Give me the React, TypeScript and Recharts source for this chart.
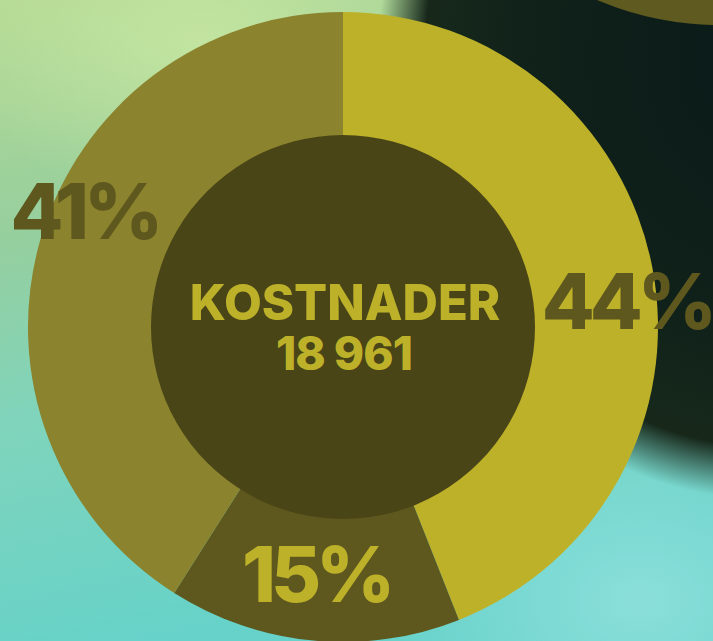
import React from "react";
import { PieChart, Pie, Cell } from "recharts";

const categories = ["Andel 1", "Andel 2", "Andel 3"];
const percentValues = [44, 15, 41];
const centerTitle = "KOSTNADER";
const centerTotal = "18 961";

const sliceColors = ["#BDB12A", "#5E581E", "#8B832D"];
const labelColors = ["#5E581E", "#BDB12A", "#5E581E"];
// label placement tweaks (radius factor, angle shift in degrees)
const labelRadiusFactor = [0.905, 0.79, 0.9];
const labelAngleShift = [-5.6, -0.8, -8];

const data = categories.map((name, i) => ({ name, value: percentValues[i] }));
const innerData = [{ name: centerTitle, value: 1 }];

const FONT = "Inter, 'Open Sans', 'DejaVu Sans', sans-serif";
const RAD = Math.PI / 180;

const renderLabel = (props: any) => {
  const { cx, cy, midAngle, outerRadius, index, value } = props;
  const r = outerRadius * labelRadiusFactor[index];
  const a = (midAngle + labelAngleShift[index]) * RAD;
  const x = cx + r * Math.cos(a);
  const y = cy - r * Math.sin(a);
  return (
    <text
      x={x}
      y={y + 28}
      textAnchor="middle"
      fill={labelColors[index]}
      style={{ fontFamily: FONT, fontWeight: 800, fontSize: 77, letterSpacing: -5 }}
    >
      {`${value}%`}
    </text>
  );
};

const renderCenter = (props: any) => {
  const { cx, cy } = props;
  return (
    <text
      x={cx + 2}
      y={cy - 7}
      textAnchor="middle"
      fill="#BDB12A"
      style={{ fontFamily: FONT, fontWeight: 800 }}
    >
      <tspan x={cx + 2} fontSize={49}>
        {centerTitle}
      </tspan>
      <tspan x={cx + 1} dy={50} fontSize={46} letterSpacing={-1}>
        {centerTotal}
      </tspan>
    </text>
  );
};

const Background = () => (
  <svg
    width={713}
    height={641}
    style={{ position: "absolute", left: 0, top: 0 }}
  >
    <defs>
      <linearGradient id="bgBase" x1="0" y1="0" x2="0.25" y2="1">
        <stop offset="0" stopColor="#b4d993" />
        <stop offset="0.35" stopColor="#96cf9e" />
        <stop offset="0.62" stopColor="#80d4bb" />
        <stop offset="1" stopColor="#66d2c9" />
      </linearGradient>
      <radialGradient id="glowBR" cx="0.5" cy="0.5" r="0.5">
        <stop offset="0" stopColor="#8fe0dc" stopOpacity="0.9" />
        <stop offset="1" stopColor="#8fe0dc" stopOpacity="0" />
      </radialGradient>
      <radialGradient id="glowTL" cx="0.5" cy="0.5" r="0.5">
        <stop offset="0" stopColor="#c6e6a2" stopOpacity="0.9" />
        <stop offset="1" stopColor="#c6e6a2" stopOpacity="0" />
      </radialGradient>
      <radialGradient id="dark" cx="0.5" cy="0.5" r="0.5">
        <stop offset="0" stopColor="#0a1a19" />
        <stop offset="0.6" stopColor="#10211a" />
        <stop offset="0.88" stopColor="#17281b" stopOpacity="1" />
        <stop offset="1" stopColor="#1f2f1e" stopOpacity="0" />
      </radialGradient>
    </defs>
    <rect x={0} y={0} width={713} height={641} fill="url(#bgBase)" />
    <ellipse cx={200} cy={40} rx={260} ry={160} fill="url(#glowTL)" />
    <ellipse cx={640} cy={600} rx={260} ry={200} fill="url(#glowBR)" />
    <ellipse cx={770} cy={60} rx={392} ry={440} fill="url(#dark)" />
    <circle cx={720} cy={-290} r={315} fill="#5f5a1f" />
  </svg>
);

export default function App() {
  return (
    <div
      style={{
        position: "absolute",
        left: 0,
        top: 0,
        width: 713,
        height: 641,
        overflow: "hidden",
      }}
    >
      <Background />
      <div style={{ position: "absolute", left: 0, top: 0 }}>
        <PieChart width={713} height={641} margin={{ top: 0, right: 0, bottom: 0, left: 0 }}>
          <Pie
            data={data}
            dataKey="value"
            nameKey="name"
            cx={343}
            cy={327}
            innerRadius={0}
            outerRadius={315}
            startAngle={90}
            endAngle={-270}
            stroke="none"
            labelLine={false}
            label={renderLabel}
            isAnimationActive={false}
          >
            {data.map((d, i) => (
              <Cell key={d.name} fill={sliceColors[i]} />
            ))}
          </Pie>
          <Pie
            data={innerData}
            dataKey="value"
            nameKey="name"
            cx={343}
            cy={327}
            innerRadius={0}
            outerRadius={192}
            startAngle={90}
            endAngle={-270}
            stroke="none"
            fill="#4A4517"
            labelLine={false}
            label={renderCenter}
            isAnimationActive={false}
          >
            <Cell fill="#4A4517" />
          </Pie>
        </PieChart>
      </div>
    </div>
  );
}
